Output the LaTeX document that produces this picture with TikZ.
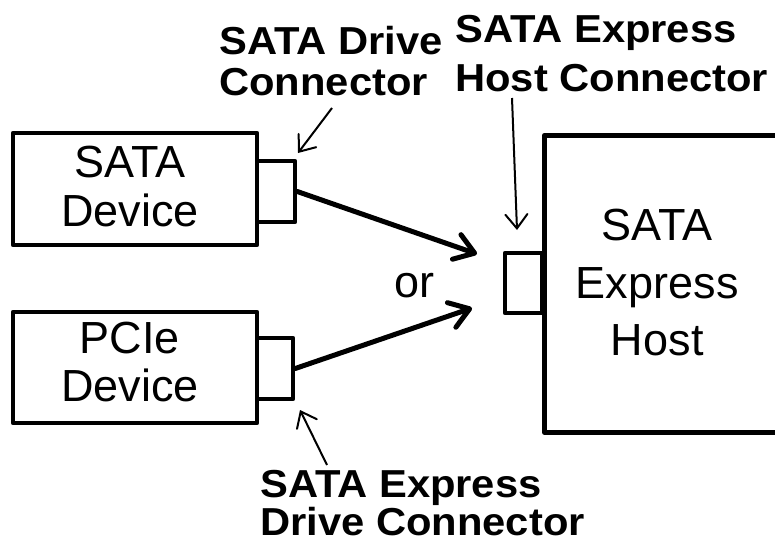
\documentclass[tikz,border=0pt]{standalone}
\usepackage{fontspec}
\setmainfont{Liberation Sans}
\newfontfamily\lblfont{Liberation Sans}[FakeStretch=1.07]
\usetikzlibrary{arrows.meta}

\tikzset{
  box/.style={draw, line width=4.5pt, line join=round, rectangle, inner sep=0pt},
  plug/.style={box, fill=white},
  bodytext/.style={font=\fontsize{45}{49}\selectfont, align=center},
  lbl/.style={font=\lblfont\fontsize{39}{40}\selectfont\bfseries, align=left, inner sep=0pt},
  link/.style={line width=5pt, line cap=round,
    -{Straight Barb[length=19pt,width=26pt,line cap=round,line join=round]}},
  pointer/.style={line width=2pt,
    -{Straight Barb[length=14pt,width=22pt,line cap=round]}},
}

\begin{document}
\begin{tikzpicture}[x=1pt,y=-1pt]
  \useasboundingbox (0,0) rectangle (775,543);

  % devices
  \node[box, minimum width=244pt, minimum height=112pt,
        label={[bodytext, xshift=-5pt, yshift=2pt]center:SATA\\Device}]
    (sata) at (135,189) {};
  \node[box, minimum width=244pt, minimum height=111pt,
        label={[bodytext, font=\fontsize{45}{48}\selectfont, xshift=-5pt, yshift=5pt]center:PCIe\\Device}]
    (pcie) at (135,367.5) {};

  % drive-side connectors
  \node[plug, minimum width=38pt, minimum height=61pt] (sconn) at (276,191.5) {};
  \node[plug, minimum width=36pt, minimum height=61pt] (pconn) at (275,368.5) {};

  % host runs off the right edge
  \begin{scope}
    \clip (0,0) rectangle (775,543);
    \node[box, minimum width=260pt, minimum height=297pt, anchor=north west] (host) at (542,133) {};
  \end{scope}
  \node[bodytext, font=\fontsize{45}{57.5}\selectfont, inner sep=0pt] (hosttext)
    at ([xshift=-17pt, yshift=1pt]host.center) {SATA\\Express\\Host};
  \node[plug, minimum width=37pt, minimum height=60pt] (hconn) at (523.5,283) {};

  % alternative cable paths
  \coordinate (stip) at (477,254);
  \coordinate (ptip) at (472,308);
  \draw[link] (sconn.east) -- (stip);
  \draw[link] (pconn.east) -- (ptip);
  \node[font=\fontsize{45}{54}\selectfont, anchor=base, inner sep=0pt] (or) at (414,297) {or};

  % connector labels (anchored at the baseline of their last line)
  \node[lbl, anchor=base west] (dlbl) at (219,95) {SATA Drive\\Connector};
  \node[lbl, font=\lblfont\fontsize{39}{49}\selectfont\bfseries, anchor=base west]
    (hlbl) at (455,91) {SATA Express\\Host Connector};
  \node[lbl, font=\lblfont\fontsize{39}{38}\selectfont\bfseries, anchor=base west]
    (xlbl) at (260,535) {SATA Express\\Drive Connector};

  % label pointers
  \coordinate (dtail) at (332,108);
  \coordinate (dtip) at (298,153);
  \coordinate (htail) at (512,98);
  \coordinate (htip) at (517,230);
  \coordinate (xtail) at (327,465);
  \coordinate (xtip) at (300,410);
  \draw[pointer] (dtail) -- (dtip);
  \draw[pointer] (htail) -- (htip);
  \draw[pointer] (xtail) -- (xtip);
\end{tikzpicture}
\end{document}
